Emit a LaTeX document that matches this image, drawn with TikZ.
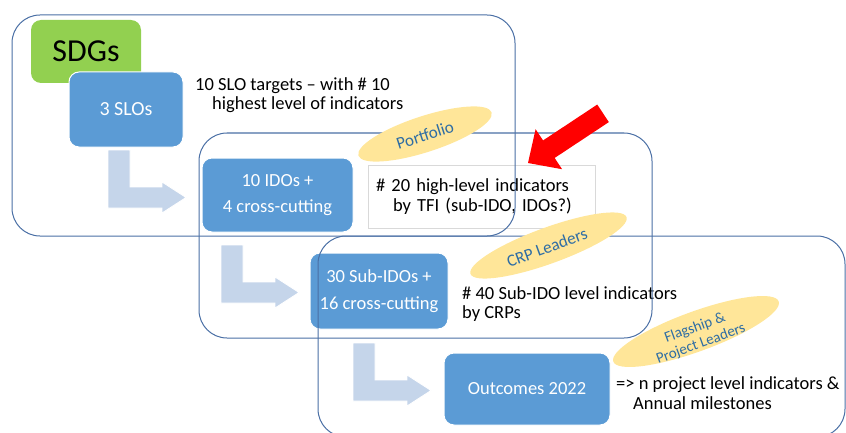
\documentclass[tikz,border=0pt]{standalone}
\usepackage{fontspec}
\setmainfont{Carlito}
\usepackage{tikz}
\usetikzlibrary{shapes.geometric}
\definecolor{sdggreen}{HTML}{92D050}
\definecolor{boxblue}{HTML}{5B9BD5}
\definecolor{arrowblue}{HTML}{C5D5EA}
\definecolor{framegray}{HTML}{4A6FA5}
\definecolor{leadyellow}{HTML}{FFE699}
\definecolor{leadtext}{HTML}{2E6DA4}
\newcommand{\bigfont}{\fontsize{32}{36}\selectfont}
\newcommand{\boxfont}{\fontsize{18.5}{26.5}\selectfont}
\newcommand{\notefont}{\fontsize{18.5}{19.5}\selectfont}
\newcommand{\leadfont}{\fontsize{17}{18}\selectfont}
\newcommand{\bentarrow}[1]{%
  \draw[bent, shift={#1}] (0,0) -- (22,0) -- (22,-37) -- (54,-37) -- (54,-32)
    -- (78,-47.5) -- (54,-63) -- (54,-58) -- (0,-58) -- cycle;}

\begin{document}
\begin{tikzpicture}[x=1pt, y=1pt,
    bluebox/.style={fill=boxblue, draw=white, line width=1pt, rounded corners=10,
      text=white, align=center, font=\boxfont},
    greenbox/.style={fill=sdggreen, rounded corners=10, font=\bigfont},
    notebox/.style={fill=white, draw=black!15, line width=0.6pt, align=left,
      font=\notefont, inner sep=8, text width=211},
    note/.style={anchor=west, inner sep=0, align=left, font=\notefont},
    frame/.style={draw=framegray, line width=1pt, rounded corners=28},
    bent/.style={fill=arrowblue, draw=white, line width=0.8pt},
    lead/.style={fill=leadyellow},
    leadlabel/.style={text=leadtext, align=center, font=\leadfont, inner sep=0}]
    \useasboundingbox (0,0) rectangle (846,432);

    % block arrows down the levels
    \bentarrow{(108,282)}
    \bentarrow{(221,187)}
    \bentarrow{(353,89)}

    \node[greenbox, minimum width=110, minimum height=63] (sdgs) at (86,380.5) {SDGs};
    \node[bluebox, minimum width=114, minimum height=75, font=\fontsize{20}{24}\selectfont] (slo) at (126,322.5) {3 SLOs};
    \node[bluebox, minimum width=151, minimum height=74] (ido) at (277.5,237) {10 IDOs +\\4 cross-cutting};
    \node[bluebox, minimum width=138, minimum height=76] (subido) at (379,141) {30 Sub-IDOs +\\16 cross-cutting};
    \node[bluebox, minimum width=166, minimum height=72] (outcome) at (527,43) {Outcomes 2022};

    \node[note] (slonote) at (195,337) {10 SLO targets -- with \# 10\\\hspace*{17pt}highest level of indicators};
    \node[notebox, minimum height=63] (tfibox) at (481.5,235.5) {\# 20 high-level indicators\\\hspace*{17pt}by TFI (sub-IDO, IDOs?)};
    \node[note] (crpnote) at (462,128) {\# 40 Sub-IDO level indicators\\by CRPs};
    \node[note] (outnote) at (616,39) {=> n project level indicators \&\\\hspace*{17pt}Annual milestones};

    \draw[frame] (12,417) rectangle (515,196);
    \draw[frame] (199,299) rectangle (652,94);
    \draw[frame] (318,196) rectangle (845,-5);

    \fill[lead, rotate around={18:(425,298)}] (425,298) ellipse [x radius=70, y radius=18];
    \node[leadlabel, rotate=18] (portfolio) at (425,297) {Portfolio};
    \fill[lead, rotate around={20:(548.5,186.5)}] (548.5,186.5) ellipse [x radius=83, y radius=18];
    \node[leadlabel, rotate=20] (crp) at (547,184.5) {CRP Leaders};
    \fill[lead, rotate around={20:(696,100.5)}] (696,100.5) ellipse [x radius=88, y radius=20];
    \node[leadlabel, rotate=20, font=\fontsize{15}{17}\selectfont] (flagship) at (698,96) {Flagship \&\\Project Leaders};

    % red pointer to the TFI indicators
    \begin{scope}[shift={(528,269)}, rotate=33.5]
        \fill[red] (0,0) -- (25,24) -- (25,10.5) -- (90,10.5) -- (90,-10.5) -- (25,-10.5) -- (25,-24) -- cycle;
    \end{scope}
\end{tikzpicture}
\end{document}
